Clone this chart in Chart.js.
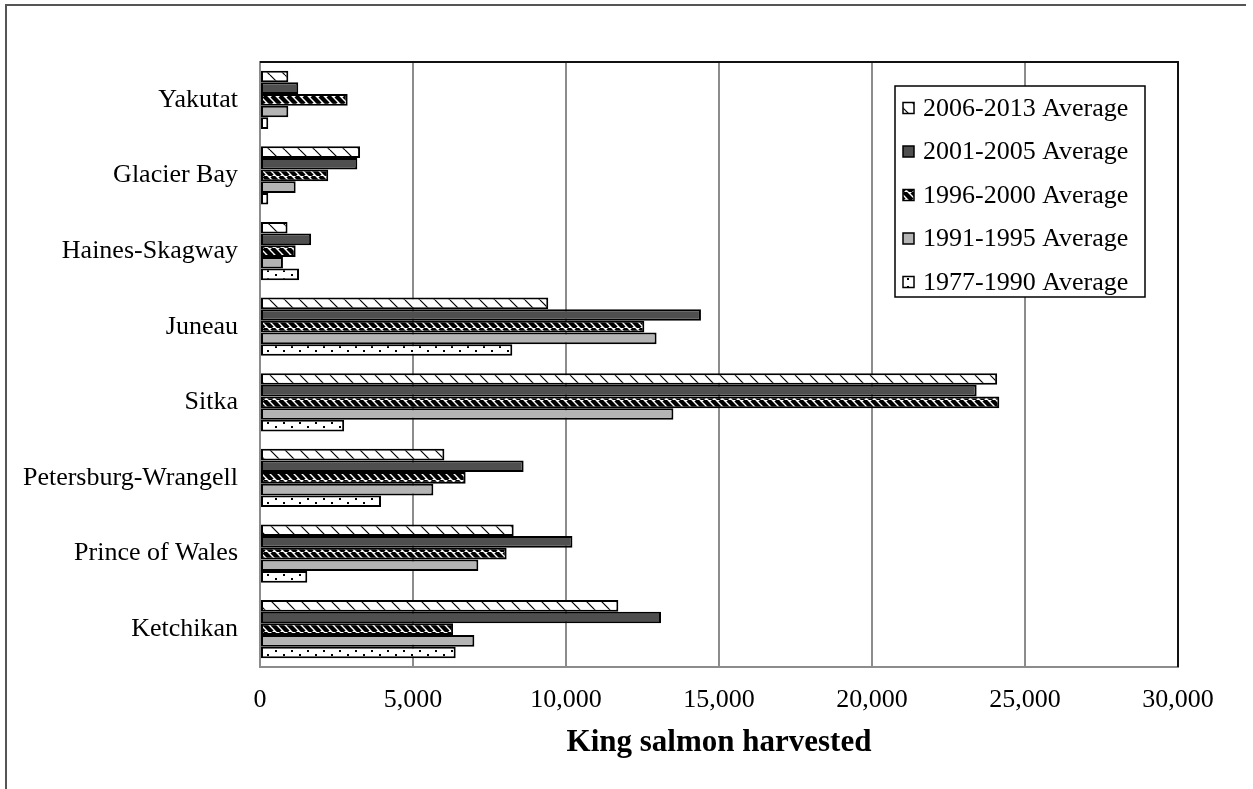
<!DOCTYPE html>
<html>
<head>
<meta charset="utf-8">
<script src="https://cdn.jsdelivr.net/npm/chart.js@4"></script>
<style>
  html, body { margin: 0; padding: 0; background: #fff; }
  #wrap { width: 1253px; height: 789px; position: relative; }
</style>
</head>
<body>
<div id="wrap"><canvas id="salmonChart" width="1253" height="789"></canvas></div>
<script>
// Average king salmon harvest by area
const categories = ['Yakutat', 'Glacier Bay', 'Haines-Skagway', 'Juneau', 'Sitka',
    'Petersburg-Wrangell', 'Prince of Wales', 'Ketchikan'];
const seriesLabels = ['2006-2013 Average', '2001-2005 Average', '1996-2000 Average',
    '1991-1995 Average', '1977-1990 Average'];
const avg2006_2013 = [925, 3270, 900, 9420, 24090, 6025, 8290, 11710];
const avg2001_2005 = [1250, 3180, 1670, 14410, 23420, 8615, 10210, 13105];
const avg1996_2000 = [2865, 2230, 1165, 12560, 24160, 6720, 8060, 6310];
const avg1991_1995 = [925, 1165, 750, 12960, 13510, 5665, 7135, 7005];
const avg1977_1990 = [270, 270, 1275, 8245, 2750, 3955, 1545, 6395];
const xTicks = [0, 5000, 10000, 15000, 20000, 25000, 30000];

const FONT = "'Liberation Serif', 'Times New Roman', serif";

function makePattern(w, h, draw) {
    const c = document.createElement('canvas');
    c.width = w;
    c.height = h;
    const g = c.getContext('2d');
    g.fillStyle = '#fff';
    g.fillRect(0, 0, w, h);
    draw(g, w, h);
    return g.createPattern(c, 'repeat');
}

function diagonal(lineWidth, size) {
    return makePattern(size, size, function(g, w, h) {
        g.strokeStyle = '#000';
        g.lineWidth = lineWidth;
        [-w, 0, w].forEach(function(x0) {
            g.beginPath();
            g.moveTo(x0, 0);
            g.lineTo(x0 + w, h);
            g.stroke();
        });
    });
}

const lightDiag = diagonal(1.2, 15);
const darkDiag = diagonal(4.4, 8);
const dots = makePattern(16, 8, function(g) {
    g.fillStyle = '#000';
    g.fillRect(3, 2, 2, 2);
    g.fillRect(11, 6, 2, 2);
});

const fills = [lightDiag, '#4f4f4f', darkDiag, '#b4b4b4', dots];
const seriesValues = [avg2006_2013, avg2001_2005, avg1996_2000, avg1991_1995, avg1977_1990];

const framePlugin = {
    id: 'frame',
    beforeDraw(chart) {
        const ctx = chart.ctx;
        ctx.save();
        ctx.fillStyle = '#fff';
        ctx.fillRect(0, 0, chart.width, chart.height);
        ctx.strokeStyle = '#555';
        ctx.lineWidth = 2;
        ctx.beginPath();
        ctx.moveTo(1246, 5);
        ctx.lineTo(6, 5);
        ctx.lineTo(6, chart.height);
        ctx.stroke();
        ctx.restore();
    },
    afterDraw(chart) {
        const ctx = chart.ctx;
        const a = chart.chartArea;
        ctx.save();
        // dark top and right edges of the plot area
        ctx.strokeStyle = '#111';
        ctx.lineWidth = 2;
        ctx.beginPath();
        ctx.moveTo(a.left, a.top);
        ctx.lineTo(a.right, a.top);
        ctx.lineTo(a.right, a.bottom);
        ctx.stroke();

        // legend box
        const bx = 895, by = 86, bw = 250, bh = 211;
        ctx.fillStyle = '#fff';
        ctx.fillRect(bx, by, bw, bh);
        ctx.strokeStyle = '#000';
        ctx.lineWidth = 1.5;
        ctx.strokeRect(bx, by, bw, bh);
        ctx.font = '26px ' + FONT;
        ctx.textBaseline = 'middle';
        ctx.textAlign = 'left';
        seriesLabels.forEach(function(label, i) {
            const cy = 108 + i * 43.5;
            ctx.fillStyle = fills[i];
            ctx.fillRect(903, cy - 5.5, 11, 11);
            ctx.strokeStyle = '#000';
            ctx.lineWidth = 1.5;
            ctx.strokeRect(903, cy - 5.5, 11, 11);
            ctx.fillStyle = '#000';
            ctx.fillText(label, 923, cy + 1);
        });
        ctx.restore();
    }
};

const ctx = document.getElementById('salmonChart').getContext('2d');
new Chart(ctx, {
    type: 'bar',
    data: {
        labels: categories,
        datasets: seriesValues.map(function(values, i) {
            return {
                label: seriesLabels[i],
                data: values,
                backgroundColor: fills[i],
                borderColor: '#000',
                borderWidth: 2,
                borderSkipped: false,
                categoryPercentage: 0.77,
                barPercentage: 1.0
            };
        })
    },
    options: {
        indexAxis: 'y',
        responsive: false,
        animation: false,
        devicePixelRatio: 1,
        layout: {
            padding: { top: 62, right: 75, bottom: 0, left: 0 }
        },
        plugins: {
            legend: { display: false },
            tooltip: { enabled: false }
        },
        scales: {
            x: {
                min: 0,
                max: 30000,
                afterFit: function(scale) { scale.height = 122; },
                afterBuildTicks: function(scale) {
                    scale.ticks = xTicks.map(function(v) { return { value: v }; });
                },
                grid: { color: '#8c8c8c', lineWidth: 2, drawTicks: false },
                border: { display: true, color: '#8c8c8c', width: 2 },
                ticks: {
                    padding: 18,
                    color: '#000',
                    font: { family: FONT, size: 26 },
                    callback: function(value) { return value.toLocaleString('en-US'); }
                },
                title: {
                    display: true,
                    text: 'King salmon harvested',
                    color: '#000',
                    font: { family: FONT, size: 31, weight: 'bold' },
                    padding: { top: 0, bottom: 27 }
                }
            },
            y: {
                afterFit: function(scale) { scale.width = 260; },
                grid: { display: false, drawTicks: false },
                border: { display: true, color: '#8c8c8c', width: 2 },
                ticks: {
                    padding: 22,
                    color: '#000',
                    font: { family: FONT, size: 26 }
                }
            }
        }
    },
    plugins: [framePlugin]
});
</script>
</body>
</html>
